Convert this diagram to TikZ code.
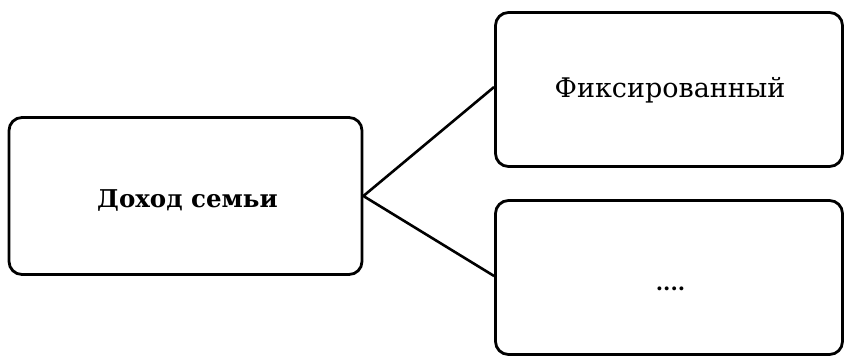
\documentclass[tikz,border=0pt]{standalone}
\usepackage{fontspec}
\setmainfont{DejaVu Serif}
\begin{document}
\begin{tikzpicture}[x=1pt,y=-1pt,
  boxst/.style={draw,line width=2.8pt,rounded corners=13pt,inner sep=0pt},
  conn/.style={line width=2.6pt}]
\useasboundingbox (0,0) rectangle (845,357);
\node[boxst,minimum width=353pt,minimum height=157pt] (src) at (185.5,196) {};
\node[font=\fontsize{24.5}{28}\selectfont\bfseries,anchor=base] (srct) at (187.5,207) {Доход семьи};
\node[boxst,minimum width=347pt,minimum height=154pt] (fix) at (669,89.5) {};
\node[font=\fontsize{27}{31}\selectfont,anchor=base] (fixt) at (670,97) {Фиксированный};
\node[boxst,minimum width=347pt,minimum height=154pt] (oth) at (669,277.5) {};
\node[font=\fontsize{21}{25}\selectfont\bfseries,anchor=base] (dots) at (670.5,290) {....};
\coordinate (j) at (src.east);
\draw[conn] (fix.west |- 0,87) -- (j) -- (oth.west |- 0,276);
\end{tikzpicture}
\end{document}
